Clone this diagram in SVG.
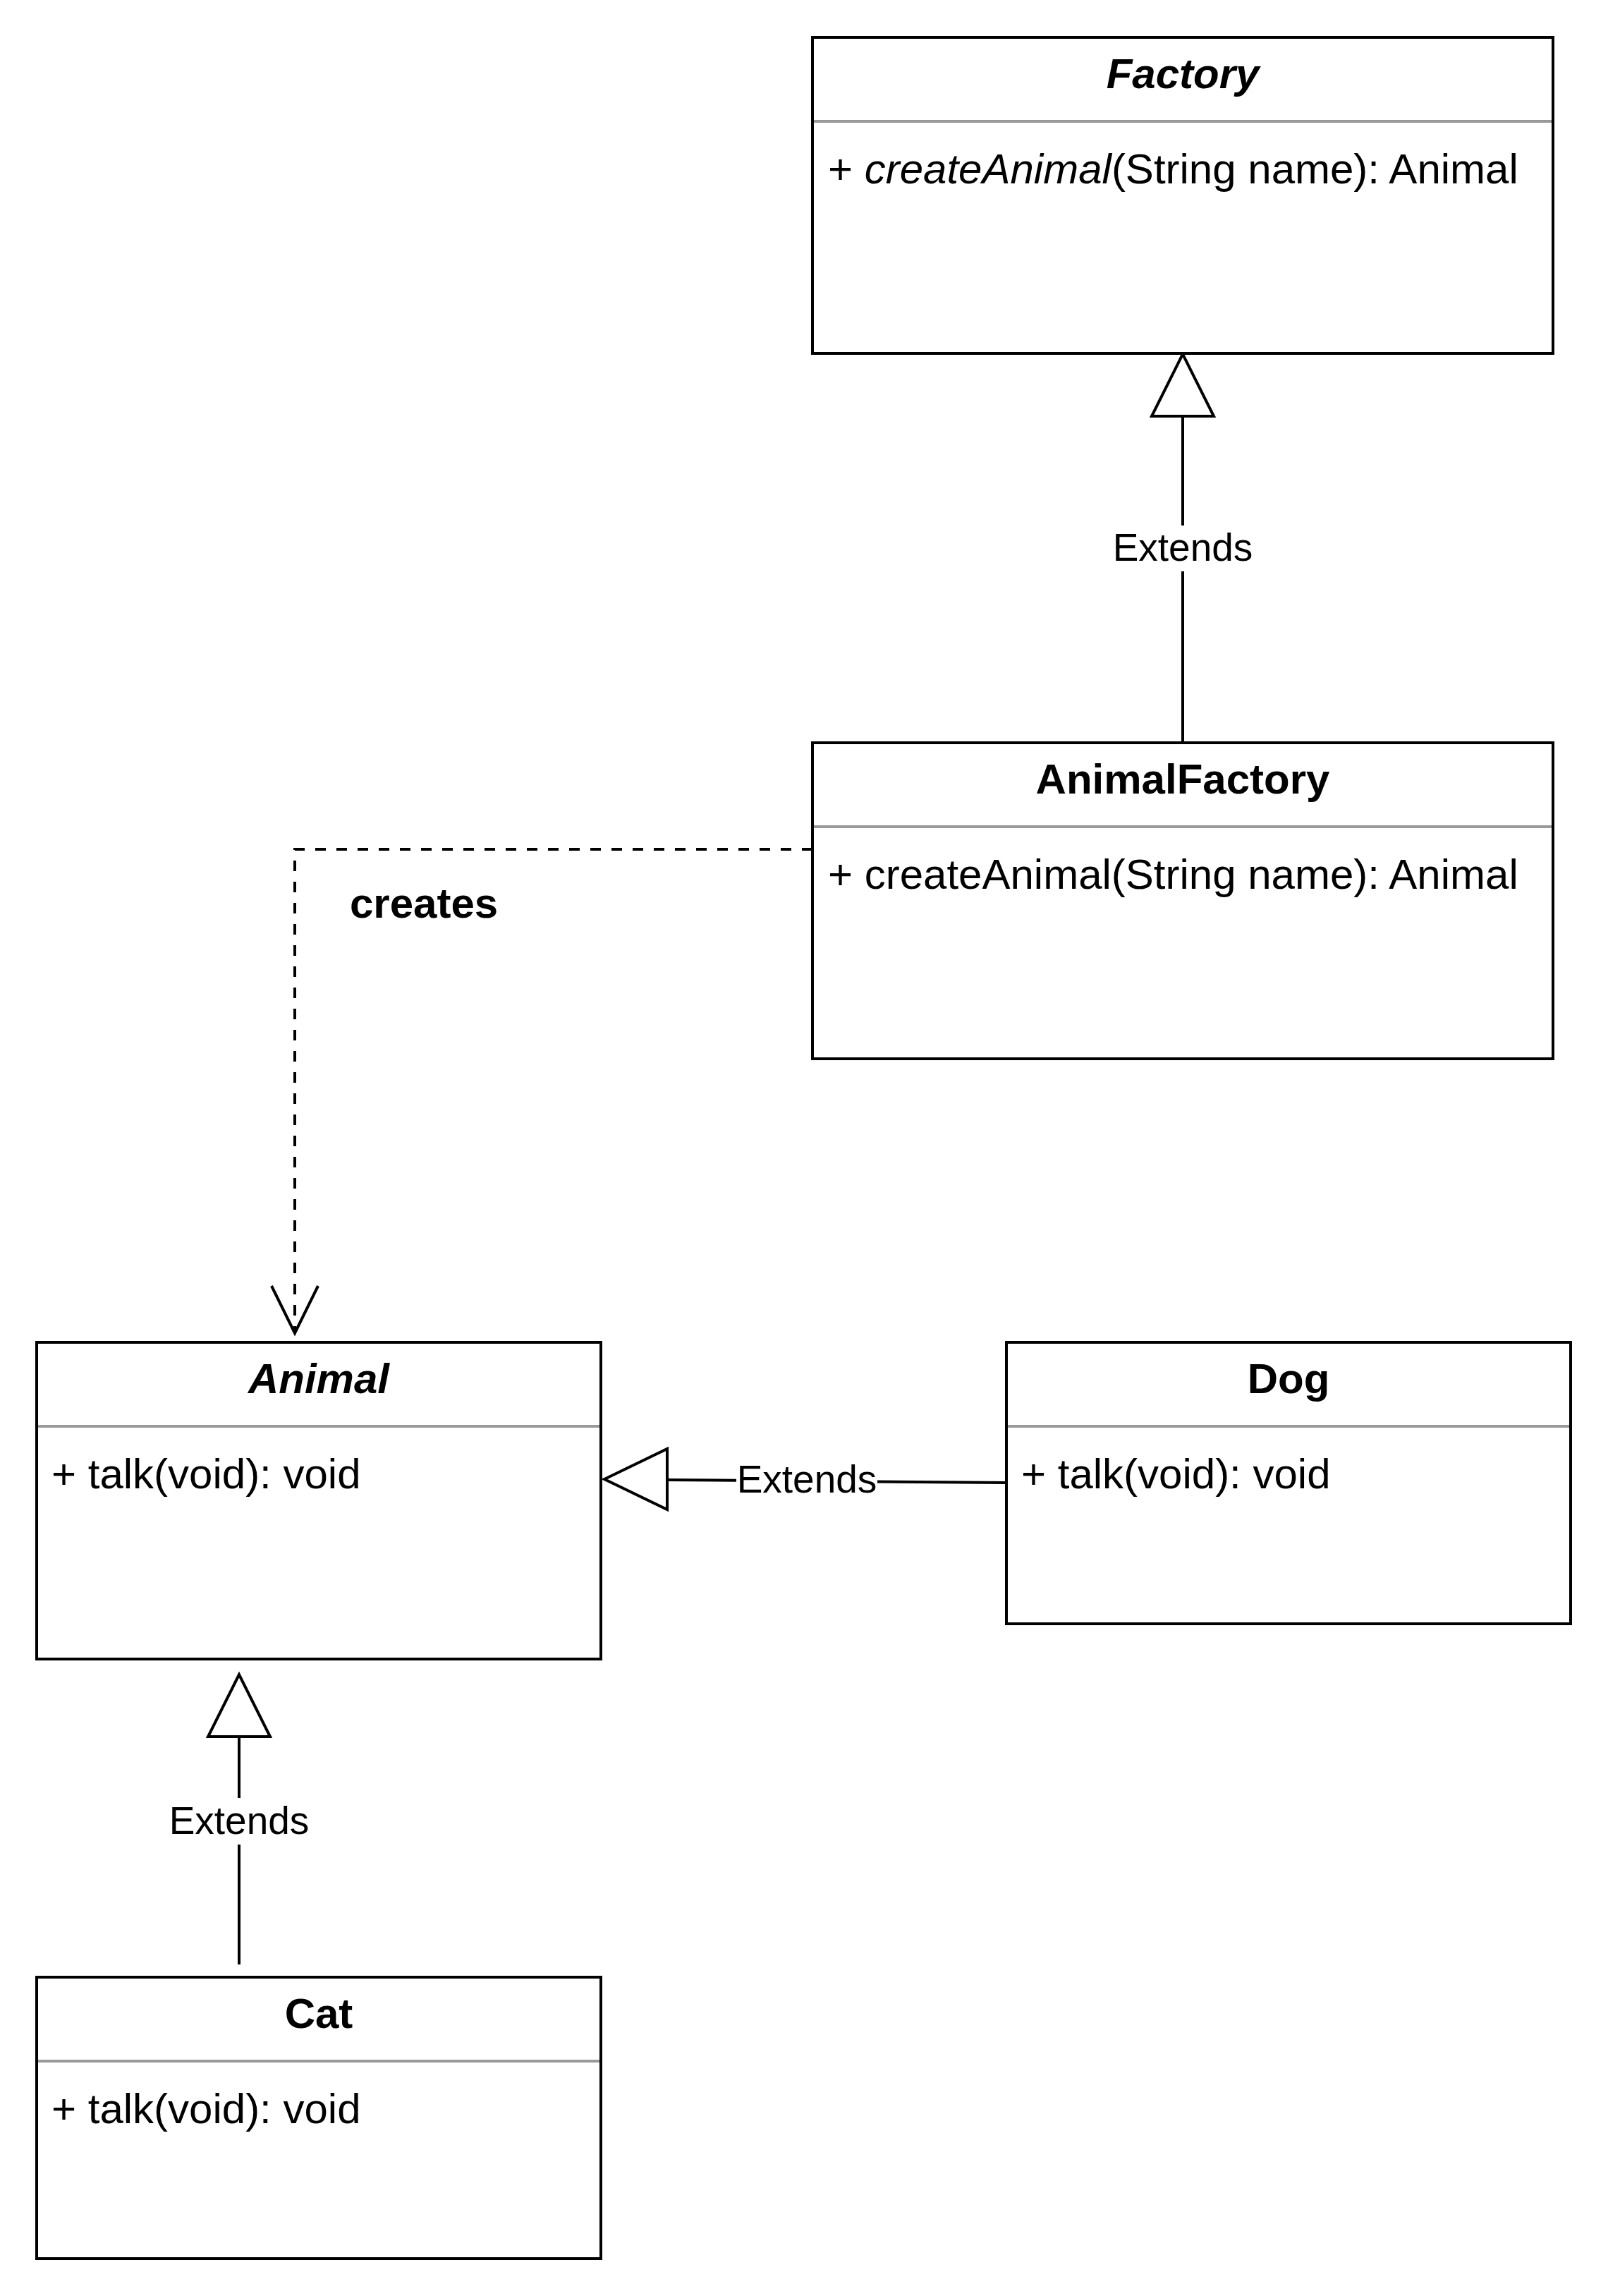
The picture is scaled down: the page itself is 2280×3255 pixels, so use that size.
<svg xmlns="http://www.w3.org/2000/svg" width="2280" height="3255" viewBox="0 0 2280 3255">
  <style>
    text { font-family: "Liberation Sans", Arial, sans-serif; fill: #000; }
    .box { fill: #fff; stroke: #000; stroke-width: 4; }
    .sep { stroke: #999; stroke-width: 4; }
    .title { font-size: 60px; font-weight: bold; text-anchor: middle; }
    .abstract { font-style: italic; }
    .member { font-size: 60px; }
    .edge { fill: none; stroke: #000; stroke-width: 4; }
    .dashed { stroke-dasharray: 15 15; }
    .tri { fill: #fff; stroke: #000; stroke-width: 4; }
    .lbl { font-size: 55px; text-anchor: middle; }
    .lblbg { fill: #fff; }
    .bold { font-size: 60px; font-weight: bold; }
  </style>
  <rect width="2280" height="3255" fill="#fff"/>

  <g id="connectors">
    <g id="e-animalfactory-factory">
      <line class="edge" x1="1677" y1="1053" x2="1677" y2="590"/>
      <polygon class="tri" points="1677,502 1633,590 1721,590"/>
      <rect class="lblbg" x="1576" y="745" width="202" height="65"/>
      <text class="lbl" x="1677" y="795">Extends</text>
    </g>
    <g id="e-animalfactory-animal">
      <path class="edge dashed" d="M1152,1204 H418 V1886"/>
      <polyline class="edge" points="385,1823 418,1890 451,1823"/>
      <text class="bold" x="496" y="1301">creates</text>
    </g>
    <g id="e-dog-animal">
      <line class="edge" x1="1427" y1="2102" x2="946" y2="2098"/>
      <polygon class="tri" points="857,2097 946,2054 946,2140"/>
      <rect class="lblbg" x="1044" y="2066" width="200" height="60"/>
      <text class="lbl" x="1144" y="2116">Extends</text>
    </g>
    <g id="e-cat-animal">
      <line class="edge" x1="339" y1="2785" x2="339" y2="2462"/>
      <polygon class="tri" points="339,2374 295,2462 383,2462"/>
      <rect class="lblbg" x="238" y="2549" width="202" height="66"/>
      <text class="lbl" x="339" y="2600">Extends</text>
    </g>
  </g>

  <g id="factory">
    <rect class="box" x="1152" y="53" width="1050" height="448"/>
    <line class="sep" x1="1154" y1="172" x2="2200" y2="172"/>
    <text class="title abstract" x="1677" y="125">Factory</text>
    <text class="member" x="1174" y="260">+ <tspan font-style="italic">createAnimal</tspan>(String name): Animal</text>
  </g>

  <g id="animalfactory">
    <rect class="box" x="1152" y="1053" width="1050" height="448"/>
    <line class="sep" x1="1154" y1="1172" x2="2200" y2="1172"/>
    <text class="title" x="1677" y="1125">AnimalFactory</text>
    <text class="member" x="1174" y="1260">+ createAnimal(String name): Animal</text>
  </g>

  <g id="animal">
    <rect class="box" x="52" y="1903" width="800" height="449"/>
    <line class="sep" x1="54" y1="2022" x2="850" y2="2022"/>
    <text class="title abstract" x="452" y="1975">Animal</text>
    <text class="member" x="73" y="2110">+ talk(void): void</text>
  </g>

  <g id="dog">
    <rect class="box" x="1427" y="1903" width="800" height="399"/>
    <line class="sep" x1="1429" y1="2022" x2="2225" y2="2022"/>
    <text class="title" x="1827" y="1975">Dog</text>
    <text class="member" x="1448" y="2110">+ talk(void): void</text>
  </g>

  <g id="cat">
    <rect class="box" x="52" y="2803" width="800" height="399"/>
    <line class="sep" x1="54" y1="2922" x2="850" y2="2922"/>
    <text class="title" x="452" y="2875">Cat</text>
    <text class="member" x="73" y="3010">+ talk(void): void</text>
  </g>
</svg>
